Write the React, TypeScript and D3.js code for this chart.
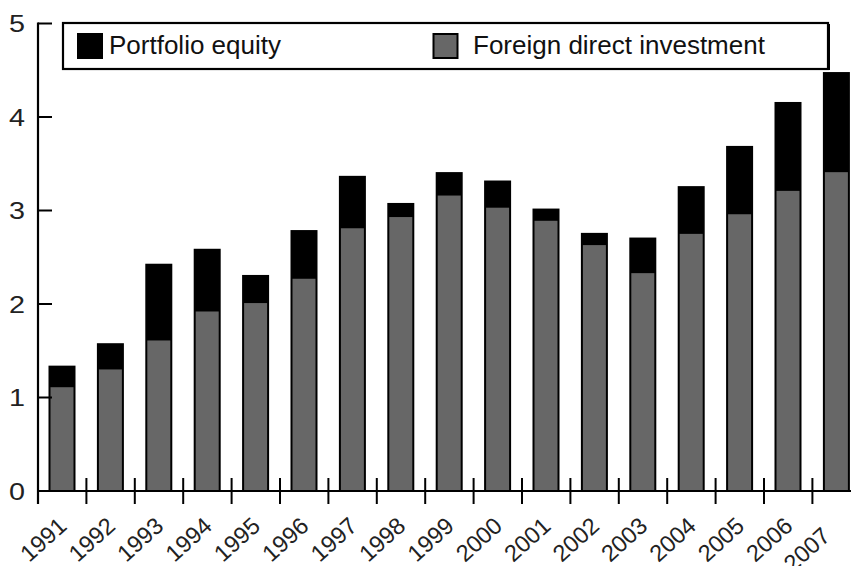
import React, { useEffect, useRef } from "react";
import * as d3 from "d3";

// Data
const years = [
  "1991", "1992", "1993", "1994", "1995", "1996", "1997", "1998", "1999",
  "2000", "2001", "2002", "2003", "2004", "2005", "2006", "2007",
];
const fdi = [
  1.11, 1.3, 1.61, 1.92, 2.01, 2.27, 2.81, 2.93, 3.16, 3.03, 2.89, 2.63, 2.33,
  2.75, 2.96, 3.21, 3.41,
];
const total = [
  1.33, 1.57, 2.42, 2.58, 2.3, 2.78, 3.36, 3.07, 3.4, 3.31, 3.01, 2.75, 2.7,
  3.25, 3.68, 4.15, 4.47,
];
const yTicks = [0, 1, 2, 3, 4, 5];
const legendLabels = ["Portfolio equity", "Foreign direct investment"];

const FONT = '"Liberation Sans", Arial, Helvetica, sans-serif';
const GRAY = "#676767";

const App = () => {
  const svgRef = useRef<SVGSVGElement>(null);

  useEffect(() => {
    const svg = d3.select(svgRef.current);
    svg.selectAll("*").remove();

    const left = 38;
    const step = 48.4;

    const x = d3
      .scaleBand()
      .domain(years)
      .range([left, left + step * years.length])
      .padding(0);

    const y = d3.scaleLinear().domain([0, 5]).range([491, 23.5]);

    // bars (stack: FDI at bottom, portfolio equity on top)
    const g = svg.append("g");
    years.forEach((yr, i) => {
      const bx = (x(yr) as number) + 11.5;
      const bw = 25;
      g.append("rect")
        .attr("x", bx)
        .attr("y", y(total[i]))
        .attr("width", bw)
        .attr("height", y(0) - y(total[i]))
        .attr("fill", "#000")
        .attr("stroke", "#000")
        .attr("stroke-width", 2);
      g.append("rect")
        .attr("x", bx + 1)
        .attr("y", y(fdi[i]))
        .attr("width", bw - 2)
        .attr("height", y(0) - y(fdi[i]))
        .attr("fill", GRAY);
    });

    // x axis line + ticks between bars
    svg
      .append("line")
      .attr("x1", left)
      .attr("x2", 851)
      .attr("y1", y(0))
      .attr("y2", y(0))
      .attr("stroke", "#000")
      .attr("stroke-width", 2.2);

    years.slice(1).forEach((yr) => {
      const tx = x(yr) as number;
      svg
        .append("line")
        .attr("x1", tx)
        .attr("x2", tx)
        .attr("y1", y(0) - 13)
        .attr("y2", y(0) + 13)
        .attr("stroke", "#000")
        .attr("stroke-width", 2);
    });

    // y axis
    svg
      .append("line")
      .attr("x1", left)
      .attr("x2", left)
      .attr("y1", y(5) - 1)
      .attr("y2", y(0) + 13)
      .attr("stroke", "#000")
      .attr("stroke-width", 2.2);

    yTicks.forEach((t) => {
      if (t > 0) {
        svg
          .append("line")
          .attr("x1", left)
          .attr("x2", left + 14)
          .attr("y1", y(t))
          .attr("y2", y(t))
          .attr("stroke", "#000")
          .attr("stroke-width", 2);
      }
      svg
        .append("text")
        .attr("transform", `translate(25,${y(t) + 8.5}) scale(1.25,1)`)
        .attr("text-anchor", "end")
        .style("font-family", FONT)
        .style("font-size", "23px")
        .attr("fill", "#222")
        .text(t);
    });

    // year labels
    years.forEach((yr, i) => {
      const cx = (x(yr) as number) + x.bandwidth() / 2;
      const last = i === years.length - 1;
      const ax = last ? cx - 5 : cx + 6;
      const ay = last ? 538 : 528;
      svg
        .append("text")
        .attr("transform", `translate(${ax},${ay}) rotate(-42)`)
        .attr("text-anchor", "end")
        .style("font-family", FONT)
        .style("font-size", "23.5px")
        .attr("fill", "#222")
        .text(yr);
    });

    // legend
    const lg = svg.append("g");
    lg.append("rect")
      .attr("x", 63)
      .attr("y", 23)
      .attr("width", 765)
      .attr("height", 46)
      .attr("fill", "#fff")
      .attr("stroke", "#000")
      .attr("stroke-width", 2.2);
    lg.append("line")
      .attr("x1", 829)
      .attr("x2", 829)
      .attr("y1", 24)
      .attr("y2", 70)
      .attr("stroke", "#000")
      .attr("stroke-width", 2);

    const swatches = [
      { x: 78, fill: "#000", label: legendLabels[0], tx: 109 },
      { x: 433.5, fill: GRAY, label: legendLabels[1], tx: 473 },
    ];
    swatches.forEach((s) => {
      lg.append("rect")
        .attr("x", s.x)
        .attr("y", 34)
        .attr("width", 24)
        .attr("height", 24)
        .attr("fill", s.fill)
        .attr("stroke", "#000")
        .attr("stroke-width", 2);
      lg.append("text")
        .attr("x", s.tx)
        .attr("y", 54)
        .style("font-family", FONT)
        .style("font-size", "26px")
        .attr("fill", "#111")
        .text(s.label);
    });
  }, []);

  return (
    <svg
      ref={svgRef}
      width="854"
      height="566"
      style={{ position: "absolute", left: 0, top: 0, background: "#fff" }}
    ></svg>
  );
};

export default App;
